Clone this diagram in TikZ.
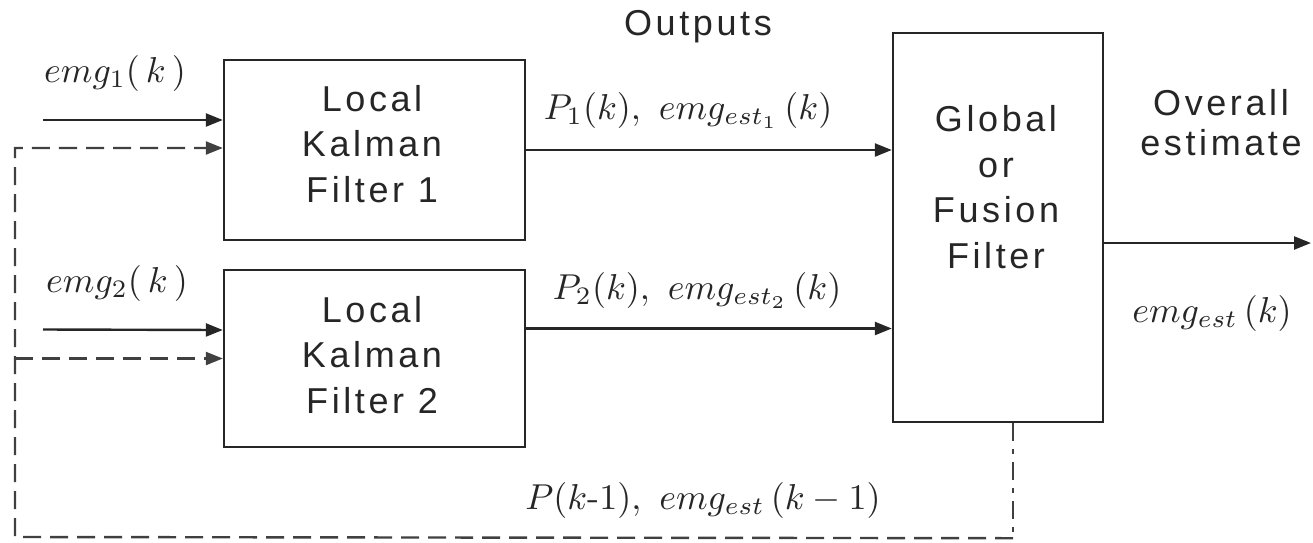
\documentclass[tikz,border=0pt]{standalone}
\usepackage{graphicx}
\usepackage{fontspec}
\newfontfamily\blocksans[LetterSpace=10]{Liberation Sans}
\usetikzlibrary{arrows.meta}
\newcommand{\mylbl}[1]{\scalebox{3.6}{$#1$}}
\begin{document}
\begin{tikzpicture}[x=1pt,y=-1pt,
  box/.style={draw=black!85,line width=2.4pt,inner sep=0pt},
  btxt/.style={font={\blocksans\fontsize{36}{45.5}\selectfont},align=center,inner sep=0pt,text=black!85},
  otxt/.style={font={\blocksans\fontsize{36}{40}\selectfont},align=center,inner sep=0pt,text=black!85},
  mtxt/.style={inner sep=0pt,text=black!85},
  ln/.style={draw=black!85,line width=2.4pt},
  arr/.style={-{Triangle[length=17pt,width=13pt]}},
  fb/.style={draw=black!75,line width=2.4pt,dash pattern=on 18pt off 9pt},
  fbdot/.style={draw=black!75,line width=2.4pt,dash pattern=on 18pt off 8pt on 5pt off 8pt}]
\useasboundingbox (0,0) rectangle (1313,542);

% blocks
\node[box,minimum width=301pt,minimum height=180pt] (k1) at (374.5,150) {};
\node[box,minimum width=301pt,minimum height=177pt] (k2) at (374.5,358.5) {};
\node[box,minimum width=210pt,minimum height=389pt] (g) at (998,227.5) {};

% block texts
\node[btxt] (k1t) at (372,144) {Local\\Kalman\\Filter 1};
\node[btxt] (k2t) at (372,355) {Local\\Kalman\\Filter 2};
\node[btxt] (gt) at (996,187) {Global\\or\\Fusion\\Filter};
\node[otxt] (outp) at (698,27) {Outputs};
\node[otxt] (ov) at (1221,123) {Overall\\estimate};

% math labels
\node[mtxt] (l1) at (115,73) {\mylbl{emg_1(\,k\,)}};
\node[mtxt] (l2) at (117,283) {\mylbl{emg_2(\,k\,)}};
\node[mtxt] (lp1) at (688,110) {\mylbl{P_1(k),\ emg_{est_1}\,(k)}};
\node[mtxt] (lp2) at (697,290) {\mylbl{P_2(k),\ emg_{est_2}\,(k)}};
\node[mtxt] (lest) at (1212,313) {\mylbl{emg_{est}\,(k)}};
\node[mtxt] (lfb) at (703,500) {\mylbl{P(k\mbox{-}1),\ emg_{est}\,(k-1)}};

% connector points
\path (k1.west) ++(0,-30) coordinate (k1a);
\path (k1.west) ++(0,-2) coordinate (k1b);
\path (k2.west) ++(0,-28.5) coordinate (k2a);
\path (k2.west) coordinate (k2b);
\coordinate (s1) at (43,120);
\coordinate (s2) at (43,329.5);
\path ([xshift=15pt]g.south) coordinate (gb);
\path ([yshift=-115pt]gb) coordinate (fbR);
\coordinate (fbL) at (15,537);
\path (k2.east) ++(0,-30) coordinate (k2o);
\path (g.east) ++(0,15.5) coordinate (go);
\coordinate (gout) at (1311,243);

% inputs
\draw[ln,arr] (s1) -- (k1a);
\draw[ln,arr] (s2) -- (k2a);

% outputs
\draw[ln,arr] (k1.east) -- (g.west |- k1.east);
\draw[ln,arr] (k2o) -- (g.west |- k2o);
\draw[ln,arr] (go) -- (gout);

% feedback
\draw[fbdot] (gb) -- (fbR);
\draw[fb,arr] (fbR) -- (fbL) -- (fbL |- k1b) -- (k1b);
\draw[fb,arr] (fbL |- k2b) -- (k2b);
\end{tikzpicture}
\end{document}
